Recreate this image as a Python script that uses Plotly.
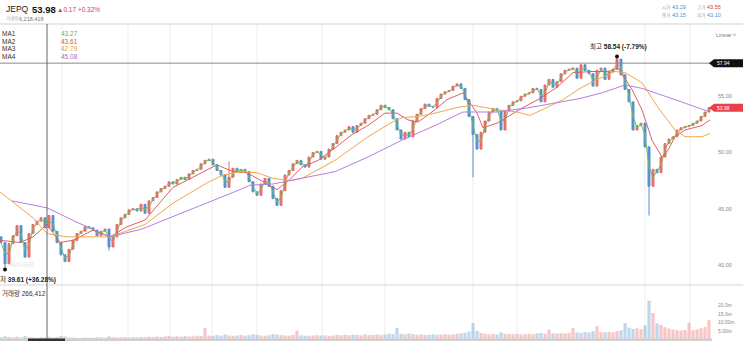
import plotly.graph_objects as go
import pandas as pd

W, H = 743, 341
PLOT_R = 712          # right edge of the plotting area (px)
TOP, MID, BOT = 24, 285, 341

# ---- price data (one candle every 4 sessions, x in session units) ----
x_pos = list(range(1, 710, 4))
close = [
    42.0, 40.1, 41.9, 42.6, 43.5, 42.0, 40.7, 42.8, 43.6, 43.9,
    44.2, 43.3, 44.4, 43.0, 42.0, 40.9, 40.3, 41.4, 42.2, 42.8,
    43.0, 43.4, 43.3, 43.1, 42.6, 43.0, 43.2, 41.6, 42.5, 43.6,
    44.2, 44.5, 44.9, 45.0, 44.8, 45.4, 44.6, 45.7, 46.0, 46.5,
    46.8, 47.0, 47.4, 47.2, 47.6, 47.8, 47.6, 48.1, 48.4, 48.5,
    49.0, 49.3, 49.4, 48.9, 48.4, 48.0, 46.9, 47.8, 48.6, 48.3,
    48.5, 48.3, 47.4, 46.5, 46.2, 47.2, 47.7, 47.0, 45.9, 45.3,
    46.6, 48.0, 48.4, 49.0, 49.3, 48.9, 48.7, 49.6, 50.0, 50.1,
    49.4, 49.6, 50.3, 50.8, 51.5, 51.8, 52.0, 52.3, 51.8, 52.4,
    52.6, 53.0, 53.3, 53.4, 53.8, 54.2, 54.0, 53.8, 53.0, 52.0,
    51.2, 51.8, 51.4, 52.8, 53.4, 53.9, 54.3, 54.1, 54.0, 54.8,
    55.2, 55.4, 55.5, 55.9, 56.1, 55.7, 54.7, 53.2, 51.6, 50.3,
    51.8, 52.8, 53.6, 53.9, 53.7, 52.0, 53.7, 54.2, 54.5, 54.6,
    55.0, 55.2, 55.3, 55.7, 55.6, 54.5, 56.0, 56.5, 55.8, 56.3,
    57.0, 57.3, 57.4, 57.5, 56.6, 57.8, 57.3, 57.0, 55.9, 57.3,
    57.5, 56.5, 57.2, 57.4, 58.3, 56.9, 55.6, 54.5, 52.0, 52.4,
    52.6, 50.5, 47.0, 48.5, 48.2, 49.6, 50.8, 51.2, 51.4, 52.0,
    52.2, 52.3, 52.4, 52.6, 52.8, 53.2, 53.6, 53.98,
]
first_open = 42.5
# intraday extremes beyond the candle bodies (candle index -> price)
wick_low = {1: 39.61, 27: 41.3, 118: 47.8, 162: 44.4}
wick_high = {57: 49.2, 154: 58.54}

# volume in millions of shares
volume_m = [
    1.6, 2.2, 1.8, 1.5, 1.9, 1.4, 2.4, 1.7, 1.5, 1.3,
    1.6, 1.4, 1.9, 1.5, 1.7, 2.3, 2.0, 1.5, 1.4, 1.3,
    1.2, 1.5, 1.4, 1.3, 1.6, 1.5, 1.3, 2.1, 1.6, 1.4,
    1.5, 1.7, 1.4, 1.6, 1.5, 1.8, 1.6, 1.9, 1.7, 2.0,
    1.8, 2.1, 2.3, 1.9, 2.2, 2.0, 2.4, 2.1, 2.2, 2.5,
    2.3, 7.0, 2.6, 2.4, 2.8, 2.5, 3.2, 2.7, 2.4, 2.6,
    2.9, 2.5, 2.8, 3.3, 3.0, 2.6, 2.4, 2.7, 3.4, 3.1,
    2.8, 2.6, 2.5, 2.9, 5.4, 2.7, 2.5, 2.4, 2.6, 2.8,
    2.5, 2.7, 2.4, 2.6, 2.9, 2.7, 3.0, 2.8, 3.1, 2.9,
    2.7, 3.2, 2.8, 3.0, 3.3, 2.9, 3.1, 3.6, 3.4, 7.0,
    3.5, 3.2, 3.8, 3.4, 3.0, 3.2, 2.9, 3.1, 3.3, 3.0,
    3.2, 3.4, 3.1, 3.3, 3.6, 3.9, 4.2, 4.8, 9.8, 5.2,
    4.1, 3.6, 3.3, 3.5, 3.2, 4.4, 3.6, 3.4, 3.3, 3.5,
    3.2, 3.4, 3.6, 3.3, 3.8, 4.1, 3.6, 6.0, 3.9, 3.7,
    4.0, 3.8, 4.2, 7.0, 4.4, 4.1, 4.6, 4.3, 5.0, 8.0,
    4.6, 4.4, 4.8, 4.5, 5.2, 5.6, 9.8, 7.2, 6.4, 6.8,
    6.2, 8.4, 22.7, 15.6, 9.6, 8.8, 7.4, 6.6, 6.0, 5.6,
    5.4, 5.8, 10.0, 5.6, 6.2, 6.8, 7.4, 11.5,
]

# moving averages, sampled along the session axis
ma1_label, ma2_label, ma3_label, ma4_label = "43.27", "43.61", "42.79", "45.08"
ma2_x = [0, 20, 33, 47, 60, 73, 93, 110, 127, 145, 173, 207, 217, 233, 247, 263,
         277, 290, 302, 318, 335, 352, 368, 385, 397, 408, 418, 435, 447, 463,
         477, 483, 497, 510, 523, 540, 557, 573, 592, 608, 618, 632, 642, 652,
         662, 668, 675, 685, 702, 710]
ma2_y = [42.2, 42.0, 42.5, 43.61, 42.0, 42.2, 43.1, 42.5, 43.4, 44.0, 46.9, 48.4,
         48.9, 48.3, 48.2, 47.4, 46.7, 47.6, 48.7, 49.3, 50.4, 51.6, 52.4, 53.5,
         53.5, 52.9, 52.7, 53.8, 54.7, 55.3, 53.5, 52.2, 52.6, 53.3, 54.0, 54.8,
         55.8, 57.1, 57.2, 57.2, 57.5, 55.6, 53.8, 51.1, 49.6, 50.2, 51.4, 52.0,
         52.4, 52.9]
ma3_x = [0, 17, 33, 47, 67, 83, 110, 145, 173, 207, 223, 240, 257, 273, 290, 302,
         335, 368, 392, 402, 418, 435, 457, 473, 497, 517, 530, 547, 563, 580,
         595, 615, 625, 642, 658, 675, 685, 702, 710]
ma3_y = [46.5, 45.3, 44.2, 42.79, 42.5, 42.5, 42.5, 43.6, 45.5, 47.3, 48.0, 48.3,
         48.2, 47.7, 47.5, 47.7, 49.3, 51.4, 52.7, 53.1, 53.2, 53.5, 54.0, 54.2,
         53.8, 53.6, 53.3, 54.0, 54.7, 55.7, 56.4, 57.2, 57.1, 56.2, 54.0, 52.0,
         51.4, 51.4, 51.7]
ma4_x = [12, 47, 77, 110, 142, 173, 207, 240, 250, 273, 290, 335, 368, 402, 435,
         463, 497, 530, 580, 602, 625, 642, 675, 710]
ma4_y = [45.7, 45.08, 43.8, 42.5, 43.2, 44.3, 45.5, 46.7, 47.1, 47.2, 47.5, 48.3,
         49.6, 51.1, 52.4, 53.6, 53.6, 54.0, 54.8, 55.3, 56.0, 55.7, 54.7, 53.6]

last_price = 53.98
ref_line = 57.94
cursor_x = 47
grid_x = [62, 128, 170, 212, 257, 322, 385, 473, 517, 645, 690]

# ---- derived candle fields ----
open_ = [first_open] + close[:-1]
high = [max(o, c) for o, c in zip(open_, close)]
low = [min(o, c) for o, c in zip(open_, close)]
for i, v in wick_low.items():
    low[i] = v
for i, v in wick_high.items():
    high[i] = v
ma1 = pd.Series(close).rolling(2, min_periods=1).mean()

UP, DOWN = "#ec6a6a", "#5592d2"
vol_colors = ["rgba(236,106,106,0.38)" if c >= o else "rgba(85,146,210,0.38)"
              for o, c in zip(open_, close)]

# axis geometry
P_LO = 40 - (MID - 265) / 11.25
P_HI = 40 + (265 - TOP) / 11.25
V_PER_PX = 1e6 / 1.733
V_LO = -(BOT - 340) * V_PER_PX
V_HI = (340 - MID) * V_PER_PX


def px(x):
    return x / W


def py(y):
    return (H - y) / H


FONT = "Liberation Sans, Noto Sans CJK KR, sans-serif"

fig = go.Figure()
fig.add_trace(go.Candlestick(
    x=x_pos, open=open_, high=high, low=low, close=close,
    increasing=dict(line=dict(color=UP, width=1), fillcolor=UP),
    decreasing=dict(line=dict(color=DOWN, width=1), fillcolor=DOWN),
    whiskerwidth=0, showlegend=False, hoverinfo="skip",
    xaxis="x", yaxis="y",
))
fig.add_trace(go.Scatter(x=x_pos, y=ma1, mode="lines",
                         line=dict(color="#6cbf5a", width=1), xaxis="x", yaxis="y"))
fig.add_trace(go.Scatter(x=ma2_x, y=ma2_y, mode="lines",
                         line=dict(color="#e06060", width=1), xaxis="x", yaxis="y"))
fig.add_trace(go.Scatter(x=ma3_x, y=ma3_y, mode="lines",
                         line=dict(color="#f2a64a", width=1), xaxis="x", yaxis="y"))
fig.add_trace(go.Scatter(x=ma4_x, y=ma4_y, mode="lines",
                         line=dict(color="#b57ee0", width=1), xaxis="x", yaxis="y"))
# extreme markers
fig.add_trace(go.Scatter(x=[x_pos[1], x_pos[154]], y=[39.61, 58.54], mode="markers",
                         marker=dict(color="#111", size=4), xaxis="x", yaxis="y"))
fig.add_trace(go.Bar(x=x_pos, y=[v * 1e6 for v in volume_m], marker_color=vol_colors,
                     marker_line_width=0, width=3.2, xaxis="x2", yaxis="y2"))

shapes = []
for gx in grid_x:
    shapes.append(dict(type="line", xref="x", yref="paper", x0=gx, x1=gx,
                       y0=py(BOT - 2), y1=py(TOP), line=dict(color="#ededed", width=1),
                       layer="below"))
shapes += [
    dict(type="line", xref="paper", yref="paper", x0=0, x1=1, y0=py(TOP), y1=py(TOP),
         line=dict(color="#cfcfcf", width=1)),
    dict(type="line", xref="paper", yref="paper", x0=0, x1=1, y0=py(MID), y1=py(MID),
         line=dict(color="#d6d6d6", width=1)),
    dict(type="line", xref="paper", yref="y", x0=0, x1=px(PLOT_R), y0=ref_line, y1=ref_line,
         line=dict(color="#8a8a8a", width=1)),
    dict(type="line", xref="x", yref="paper", x0=cursor_x, x1=cursor_x, y0=0, y1=py(TOP),
         line=dict(color="#666666", width=1)),
    dict(type="rect", xref="paper", yref="paper", x0=0, x1=px(PLOT_R), y0=py(341), y1=py(338.5),
         line=dict(width=0), fillcolor="#d0d0d0"),
    dict(type="rect", xref="paper", yref="paper", x0=px(28), x1=px(65), y0=py(341), y1=py(338.5),
         line=dict(width=0), fillcolor="#333333"),
]
# price tags on the right axis
for val, col in [(ref_line, "#111111"), (last_price, "#e8414a")]:
    yc = 265 - (val - 40) * 11.25
    shapes.append(dict(type="path", xref="paper", yref="paper",
                       path=f"M {px(709)} {py(yc)} L {px(714)} {py(yc - 4)} L {px(743)} {py(yc - 4)} "
                            f"L {px(743)} {py(yc + 4)} L {px(714)} {py(yc + 4)} Z",
                       fillcolor=col, line=dict(width=0)))

ann = []


def text(x, y, s, size=6, color="#333", anchor="left", **kw):
    ann.append(dict(x=px(x), y=py(y), xref="paper", yref="paper", text=s, showarrow=False,
                    xanchor=anchor, yanchor="middle", borderpad=0,
                    font=dict(size=size, color=color, family=FONT), **kw))


text(5, 9.5, "JEPQ", size=8.5, color="#222")
text(31, 9.5, "<b>53.98</b>", size=9.5, color="#111")
text(56, 9.5, "▲0.17 +0.32%", size=6.5, color="#e0383f")
text(5, 18.8, "거래량", size=4.5, color="#aaa")
text(18, 18.8, "6,218,418", size=5.5, color="#777")
text(661, 7.5, "시가", size=4.5, color="#999")
text(671, 7.5, "43.29", size=5.5, color="#4a8fd8")
text(696, 7.5, "고가", size=4.5, color="#999")
text(706, 7.5, "43.55", size=5.5, color="#e0383f")
text(661, 15.5, "종가", size=4.5, color="#999")
text(671, 15.5, "43.15", size=5.5, color="#4a8fd8")
text(696, 15.5, "저가", size=4.5, color="#999")
text(706, 15.5, "43.10", size=5.5, color="#4a8fd8")
for i, (lab, val, col) in enumerate([("MA1", ma1_label, "#5cb85c"), ("MA2", ma2_label, "#e05050"),
                                     ("MA3", ma3_label, "#f09a30"), ("MA4", ma4_label, "#a86ee0")]):
    text(1, 33 + 8 * i, lab, size=6.5, color="#333")
    text(60, 33 + 8 * i, val, size=6.5, color=col)
text(715, 34.5, "Linear ˅", size=5.5, color="#777")
text(618, 47, "최고 <b>58.54 (-7.79%)</b>", size=6.5, color="#222", anchor="center")
text(-7, 279, "최저 <b>39.61 (+36.28%)</b>", size=6.5, color="#222")
text(9, 264, "<b>NAVER</b>", size=7, color="#ececec")
text(1, 293, "거래량 266,412", size=6.5, color="#333")
for val in (ref_line, last_price):
    text(716, 265 - (val - 40) * 11.25, f"{val:.2f}", size=5, color="#ffffff")

fig.update_layout(
    width=W, height=H, margin=dict(l=0, r=0, t=0, b=0),
    paper_bgcolor="white", plot_bgcolor="white", showlegend=False,
    font=dict(family=FONT),
    shapes=shapes, annotations=ann,
    xaxis=dict(domain=[0, px(PLOT_R)], range=[0, PLOT_R], visible=False,
               rangeslider=dict(visible=False), anchor="y"),
    xaxis2=dict(domain=[0, px(PLOT_R)], range=[0, PLOT_R], visible=False,
                matches="x", anchor="y2"),
    yaxis=dict(domain=[py(MID), py(TOP)], range=[P_LO, P_HI], side="right",
               tickvals=[40, 45, 50, 55], ticktext=["40.00", "45.00", "50.00", "55.00"],
               tickfont=dict(size=5.5, color="#888"), showgrid=False, zeroline=False,
               ticks="", ticklabelstandoff=5, anchor="x"),
    yaxis2=dict(domain=[0, py(MID)], range=[V_LO, V_HI], side="right",
                tickvals=[5e6, 10e6, 15e6, 20e6], ticktext=["5.00m", "10.00m", "15.0m", "20.0m"],
                tickfont=dict(size=5, color="#888"), showgrid=False, zeroline=False,
                ticks="", ticklabelstandoff=5, anchor="x2"),
)

fig.write_html("out.html")
